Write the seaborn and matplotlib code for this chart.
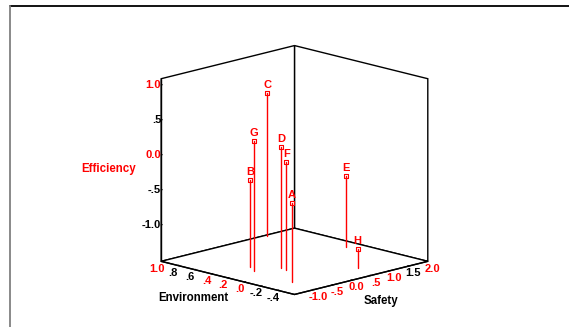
import numpy as np
import pandas as pd
import matplotlib
matplotlib.use("Agg")
import matplotlib.pyplot as plt
import seaborn as sns
from matplotlib.lines import Line2D
from mpl_toolkits.mplot3d import proj3d

# datos de los puntos
labels = ["A", "B", "C", "D", "E", "F", "G", "H"]
environment = [-0.27, 0.32, 0.97, 0.13, 0.23, 0.03, 0.22, -0.35]
safety = [-0.87, -0.67, 1.21, -0.27, 1.66, -0.35, -0.78, 0.70]
efficiency = [-0.40, -0.27, 0.53, 0.21, -0.50, 0.03, 0.33, -1.24]

# ticks y etiquetas de los ejes
env_ticks = [1.0, 0.8, 0.6, 0.4, 0.2, 0.0, -0.2, -0.4]
env_labels = ["1.0", ".8", ".6", ".4", ".2", ".0", "-.2", "-.4"]
env_colors = ["red", "black", "black", "red", "red", "red", "black", "black"]
saf_ticks = [-1.0, -0.5, 0.0, 0.5, 1.0, 1.5, 2.0]
saf_labels = ["-1.0", "-.5", "0.0", ".5", "1.0", "1.5", "2.0"]
saf_colors = ["red", "red", "red", "red", "red", "black", "red"]
eff_ticks = [1.0, 0.5, 0.0, -0.5, -1.0]
eff_labels = ["1.0", ".5", "0.0", "-.5", "-1.0"]
eff_colors = ["red", "black", "red", "black", "black"]

df = pd.DataFrame({"label": labels, "Environment": environment,
                   "Safety": safety, "Efficiency": efficiency})

sns.set_style("white")
plt.rcParams["font.family"] = ["Liberation Sans", "DejaVu Sans"]
plt.rcParams["font.weight"] = "bold"

z_floor = -1.52

fig = plt.figure(figsize=(5.69, 3.27), dpi=100)
S = 317
cx, cy = 290.2, 327 - 174.3
ax = fig.add_axes([(cx - S / 2) / 569, (cy - S / 2) / 327, S / 569, S / 327],
                  projection="3d")
ax.set_proj_type("ortho")
ax.view_init(elev=14.4, azim=-135)
ax.set_box_aspect((1, 1, 1))
ax.computed_zorder = False

ax.set_xlim(-1.52, 2.0)
ax.set_ylim(-0.6, 1.0)
ax.set_zlim(z_floor, 1.09)

for axis in (ax.xaxis, ax.yaxis, ax.zaxis):
    axis.set_pane_color((1, 1, 1, 1))
    axis.pane.set_edgecolor("black")
    axis.pane.set_linewidth(1.0)
    axis.pane.set_closed(True)
    axis.line.set_color("black")
    axis.line.set_linewidth(1.0)
    axis._axinfo["grid"]["linewidth"] = 0
    axis._axinfo["tick"]["inward_factor"] = 0.0
    axis._axinfo["tick"]["outward_factor"] = 0.1
ax.grid(False)

# tallos y puntos
for _, r in df.iterrows():
    ax.plot([r["Safety"], r["Safety"]], [r["Environment"], r["Environment"]],
            [z_floor, r["Efficiency"]], color="red", lw=1.0)
ax.scatter(df["Safety"], df["Environment"], df["Efficiency"], marker="s", s=7,
           facecolor="white", edgecolor="red", linewidth=0.8, depthshade=False)

# letras de los puntos, proyectadas con la proyeccion del propio eje
M = ax.get_proj()
px, py, _ = proj3d.proj_transform(df["Safety"].to_numpy(), df["Environment"].to_numpy(),
                                  df["Efficiency"].to_numpy() + 0.04, M)
for lab, x2, y2 in zip(df["label"], px, py):
    ax.text2D(x2, y2, lab, transform=ax.transData, color="red", fontsize=8,
              fontweight="bold", ha="center", va="bottom")

ax.set_xticks(saf_ticks)
ax.set_xticklabels(saf_labels, va="center", ha="center")
ax.set_yticks(env_ticks)
ax.set_yticklabels(env_labels, va="center", ha="center")
ax.set_zticks(eff_ticks)
ax.set_zticklabels(eff_labels, va="center", ha="right")
ax.tick_params(labelsize=8, width=2.5, colors="black")
ax.tick_params(axis="x", pad=-4)
ax.tick_params(axis="y", pad=-4)
ax.tick_params(axis="z", pad=-8)
for lbls, cols in ((ax.get_xticklabels(), saf_colors),
                   (ax.get_yticklabels(), env_colors),
                   (ax.get_zticklabels(), eff_colors)):
    for t, c in zip(lbls, cols):
        t.set_color(c)
        t.set_fontweight("bold")

# titulos de los ejes
fig.text(193 / 569, 1 - 298 / 327, "Environment", fontsize=8.3, fontweight="bold",
         ha="center", va="center", color="black")
fig.text(381 / 569, 1 - 301 / 327, "Safety", fontsize=8.3, fontweight="bold",
         ha="center", va="center", color="black")
fig.text(109 / 569, 1 - 169 / 327, "Efficiency", fontsize=8.3, fontweight="bold",
         ha="center", va="center", color="red")

# marco
fig.add_artist(Line2D([10 / 569, 1], [1 - 6 / 327, 1 - 6 / 327],
                      transform=fig.transFigure, color="black", lw=1.3))
fig.add_artist(Line2D([10 / 569, 10 / 569], [0, 1 - 6 / 327],
                      transform=fig.transFigure, color="gray", lw=1.3))

fig.savefig("out.png", dpi=100)
